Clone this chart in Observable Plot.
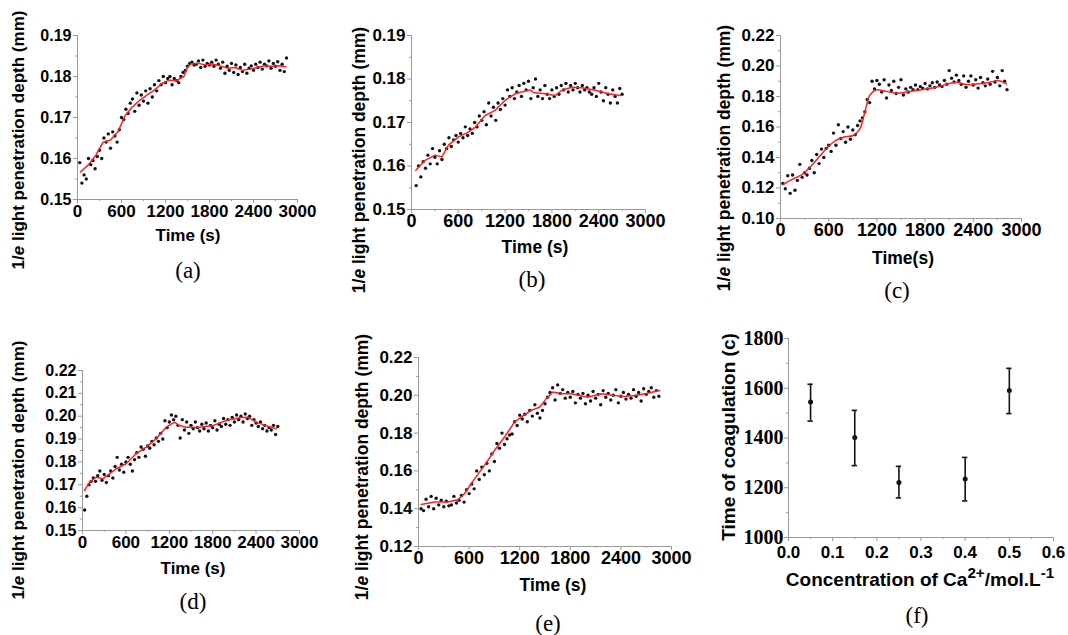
<!DOCTYPE html>
<html>
<head>
<meta charset="utf-8">
<script src="https://cdn.jsdelivr.net/npm/d3@7"></script>
<script src="https://cdn.jsdelivr.net/npm/@observablehq/plot@0.6"></script>
<style>
  html, body { margin: 0; padding: 0; background: #fff; }
  #fig { position: relative; width: 1068px; height: 635px; background: #fff; overflow: hidden; }
  .lab { position: absolute; white-space: nowrap; color: #000; line-height: 1; }
  .ax { font-family: Arial, "Liberation Sans", sans-serif; font-weight: bold; }
  .axf { font-family: Arial, "Liberation Sans", sans-serif; font-weight: bold; font-size: 19px; }
  .let { font-family: "Times New Roman", "Liberation Serif", serif; font-size: 23px; }
  sup { font-size: 0.8em; line-height: 0; }
</style>
</head>
<body>
<div id="fig"></div>
<script>
// ---------- sampling clock (s) ----------
const T = [30,60,90,120,150,180,210,240,270,300,
  330,360,390,420,450,480,510,540,570,600,
  630,660,690,720,750,780,810,840,870,900,
  930,960,990,1020,1050,1080,1110,1140,1170,1200,
  1230,1260,1290,1320,1350,1380,1410,1440,1470,1500,
  1530,1560,1590,1620,1650,1680,1710,1740,1770,1800,
  1830,1860,1890,1920,1950,1980,2010,2040,2070,2100,
  2130,2160,2190,2220,2250,2280,2310,2340,2370,2400,
  2430,2460,2490,2520,2550,2580,2610,2640,2670,2700,
  2730,2760,2790,2820,2850];

// ---------- panel (a) ----------
const aVals = [.1590,.1540,.1560,.1550,.1600,.1585,.1595,.1575,.1605,.1620,
  .1600,.1650,.1640,.1660,.1625,.1665,.1655,.1640,.1670,.1700,
  .1695,.1720,.1710,.1735,.1745,.1715,.1760,.1730,.1755,.1740,
  .1765,.1735,.1770,.1750,.1780,.1765,.1790,.1780,.1800,.1785,
  .1795,.1800,.1780,.1795,.1790,.1785,.1800,.1810,.1815,.1825,
  .1832,.1835,.1828,.1830,.1838,.1822,.1840,.1825,.1832,.1828,
  .1835,.1825,.1840,.1830,.1820,.1835,.1808,.1825,.1815,.1832,
  .1810,.1828,.1805,.1822,.1812,.1830,.1808,.1820,.1826,.1815,
  .1830,.1822,.1835,.1818,.1830,.1826,.1838,.1820,.1832,.1825,
  .1836,.1815,.1830,.1812,.1845];
const aFitT = [40,150,250,350,450,550,650,750,850,950,1050,1150,1250,1350,1450,1500,1550,1650,1750,1850,1950,2050,2150,2250,2350,2450,2550,2650,2750,2840];
const aFitV = [.1567,.1585,.1608,.1640,.1645,.1665,.1705,.1726,.1742,.1755,.1767,.1783,.1791,.1790,.1800,.1822,.1831,.1832,.1828,.1830,.1826,.1820,.1822,.1815,.1818,.1822,.1826,.1825,.1826,.1824];

// ---------- panel (b) (samples start at 60 s) ----------
const bVals = [.1555,.1600,.1575,.1610,.1595,.1625,.1605,.1640,.1620,.1605,
  .1635,.1615,.1650,.1640,.1665,.1645,.1660,.1670,.1655,.1675,
  .1665,.1690,.1670,.1685,.1675,.1700,.1690,.1715,.1705,.1725,
  .1695,.1745,.1715,.1735,.1705,.1745,.1730,.1755,.1740,.1775,
  .1760,.1780,.1755,.1770,.1785,.1760,.1790,.1775,.1795,.1755,
  .1780,.1800,.1760,.1775,.1755,.1785,.1765,.1755,.1775,.1760,
  .1780,.1765,.1785,.1775,.1790,.1770,.1785,.1775,.1790,.1780,
  .1770,.1785,.1775,.1780,.1770,.1765,.1780,.1760,.1790,.1770,
  .1750,.1780,.1765,.1745,.1775,.1760,.1745,.1778,.1765];
const bFitT = [56,175,303,390,474,603,731,816,944,1073,1201,1329,1521,1564,1714,1842,1927,2056,2184,2355,2526,2675];
const bFitV = [.1590,.1613,.1625,.1621,.1648,.1667,.1678,.1689,.1716,.1728,.1751,.1766,.1775,.1769,.1766,.1762,.1774,.1781,.1780,.1774,.1766,.1762];

// ---------- panel (c) ----------
const cVals = [.1230,.1195,.1280,.1165,.1285,.1185,.1250,.1355,.1270,.1300,
  .1285,.1330,.1380,.1300,.1420,.1360,.1455,.1400,.1460,.1480,
  .1440,.1560,.1480,.1615,.1525,.1570,.1500,.1600,.1520,.1580,
  .1550,.1610,.1640,.1660,.1700,.1780,.1760,.1900,.1850,.1905,
  .1880,.1830,.1910,.1790,.1875,.1840,.1900,.1820,.1860,.1910,
  .1810,.1850,.1830,.1860,.1845,.1875,.1845,.1865,.1855,.1885,
  .1850,.1870,.1890,.1860,.1895,.1875,.1865,.1905,.1880,.1970,
  .1920,.1895,.1940,.1905,.1880,.1935,.1860,.1900,.1935,.1875,
  .1910,.1855,.1925,.1890,.1870,.1915,.1880,.1965,.1895,.1925,
  .1870,.1970,.1900,.1845];
const cFitT = [33,158,282,407,531,656,780,905,988,1050,1112,1195,1278,1444,1610,1776,1942,2108,2191,2315,2440,2606,2710,2813];
const cFitV = [.1223,.1260,.1293,.1359,.1435,.1500,.1533,.1544,.1588,.1697,.1807,.1844,.1838,.1822,.1833,.1846,.1861,.1887,.1893,.1878,.1882,.1893,.1905,.1882];

// ---------- panel (d) ----------
const dVals = [.1590,.1650,.1700,.1715,.1730,.1715,.1740,.1760,.1720,.1745,
  .1710,.1740,.1760,.1730,.1780,.1820,.1765,.1790,.1755,.1800,
  .1820,.1790,.1760,.1810,.1840,.1820,.1865,.1855,.1825,.1870,
  .1860,.1890,.1875,.1905,.1890,.1925,.1900,.1980,.1950,.1975,
  .2005,.1985,.2000,.1960,.1905,.1985,.1940,.1975,.1925,.1960,
  .1945,.1975,.1950,.1935,.1965,.1945,.1970,.1935,.1960,.1950,
  .1980,.1940,.1965,.1955,.1990,.1965,.1985,.1960,.1995,.1975,
  .2005,.1985,.2000,.1975,.2010,.1990,.2000,.1960,.1985,.1970,
  .1955,.1975,.1945,.1960,.1935,.1950,.1940,.1960,.1920,.1955];
const dFitT = [28,97,189,281,373,465,603,742,880,1018,1157,1272,1341,1433,1618,1802,1986,2171,2286,2401,2539,2677];
const dFitV = [.1675,.1712,.1733,.1726,.1748,.1770,.1792,.1836,.1865,.1901,.1952,.1974,.1959,.1952,.1952,.1959,.1981,.1993,.1996,.1974,.1959,.1945];

// ---------- panel (e) ----------
const eVals = [.1400,.1390,.1450,.1410,.1465,.1400,.1455,.1420,.1445,.1410,
  .1440,.1415,.1420,.1465,.1430,.1445,.1470,.1435,.1500,.1480,
  .1530,.1505,.1600,.1555,.1620,.1580,.1640,.1600,.1690,.1650,
  .1745,.1720,.1800,.1740,.1770,.1790,.1795,.1860,.1840,.1895,
  .1875,.1900,.1860,.1920,.1890,.1950,.1905,.1880,.1920,.1955,
  .1990,.2015,.2040,.1975,.2055,.2010,.2030,.1985,.2015,.1990,
  .2020,.1960,.2005,.1985,.2010,.1955,.2000,.1970,.2020,.1985,
  .2005,.1950,.2025,.1990,.2010,.1975,.2000,.2030,.1960,.1995,
  .2015,.1980,.2005,.1985,.2030,.1995,.2015,.1970,.2035,.2005,
  .2020,.2040,.1990,.2025,.1995];
const eFitT = [32,190,348,466,545,664,783,901,1020,1138,1217,1336,1435,1514,1593,1692,1810,2008,2166,2324,2443,2561,2719,2858];
const eFitV = [.1422,.1435,.1435,.1447,.1479,.1558,.1629,.1708,.1779,.1858,.1884,.1920,.1937,.1981,.2017,.2008,.2008,.1990,.2008,.1999,.1994,.1999,.2011,.2025];

// ---------- panel (f) ----------
const fConc = [0.05, 0.15, 0.25, 0.40, 0.50];
const fTime = [1545, 1402, 1221, 1235, 1591];
const fLow  = [1468, 1289, 1159, 1147, 1498];
const fHigh = [1616, 1511, 1286, 1322, 1680];

// ---------- tick labels ----------
const timeTicks = [0, 600, 1200, 1800, 2400, 3000];
const timeMinor = [300, 900, 1500, 2100, 2700];
const yTicksAB = [0.15, 0.16, 0.17, 0.18, 0.19];
const yMinorAB = [0.155, 0.165, 0.175, 0.185];
const yTicksC = [0.10, 0.12, 0.14, 0.16, 0.18, 0.20, 0.22];
const yMinorC = [0.11, 0.13, 0.15, 0.17, 0.19, 0.21];
const yTicksD = [0.15, 0.16, 0.17, 0.18, 0.19, 0.20, 0.21, 0.22];
const yMinorD = [0.155, 0.165, 0.175, 0.185, 0.195, 0.205, 0.215];
const yTicksE = [0.12, 0.14, 0.16, 0.18, 0.20, 0.22];
const yMinorE = [0.13, 0.15, 0.17, 0.19, 0.21];
const fXTicks = [0.0, 0.1, 0.2, 0.3, 0.4, 0.5, 0.6];
const fXMinor = [0.05, 0.15, 0.25, 0.35, 0.45, 0.55];
const fYTicks = [1000, 1200, 1400, 1600, 1800];
const fYMinor = [1100, 1300, 1500, 1700];

// ---------- drawing ----------
const fig = document.getElementById("fig");
const AXIS = "#9a9a9a";
const SANS = "Arial, Liberation Sans, sans-serif";
const SERIF = "Times New Roman, Liberation Serif, serif";
const RED = "#ff2020";

function place(svg, left, top) {
  svg.style.position = "absolute";
  svg.style.left = left + "px";
  svg.style.top = top + "px";
  fig.appendChild(svg);
}

function addLabel(html, x, y, cls, size, rotate) {
  const d = document.createElement("div");
  d.className = "lab " + cls;
  d.innerHTML = html;
  d.style.left = x + "px";
  d.style.top = y + "px";
  if (size) d.style.fontSize = size + "px";
  d.style.transform = "translate(-50%,-50%)" + (rotate ? " rotate(-90deg)" : "");
  fig.appendChild(d);
}

function timePanel(p) {
  const ML = 60, MR = 40, MT = 20, MB = 28;
  const W = p.frame[1] - p.frame[0] + ML + MR;
  const H = p.frame[3] - p.frame[2] + MT + MB;
  const samples = p.vals.map((v, i) => ({t: T[i + p.start], v}));
  const fit = p.fitT.map((t, i) => ({t, v: p.fitV[i]}));
  const svg = Plot.plot({
    width: W, height: H,
    marginLeft: ML, marginRight: MR, marginTop: MT, marginBottom: MB,
    style: {background: "transparent", overflow: "visible"},
    x: {domain: [0, 3000]},
    y: {domain: [p.yTicks[0], p.yTicks[p.yTicks.length - 1]]},
    marks: [
      Plot.ruleX([0], {stroke: AXIS}),
      Plot.ruleY([p.yTicks[0]], {stroke: AXIS}),
      Plot.axisY(p.yMinor, {tickSize: 2, stroke: AXIS, fill: "none", label: null}),
      Plot.axisY(p.yTicks, {tickSize: 4, tickPadding: 2, stroke: AXIS, fill: "#000",
        tickFormat: d3.format(".2f"), fontFamily: SANS, fontSize: p.fs[0], fontWeight: "bold", label: null}),
      Plot.axisX(timeMinor, {tickSize: 2, stroke: AXIS, fill: "none", label: null}),
      Plot.axisX(timeTicks, {tickSize: 4, tickPadding: 1, stroke: AXIS, fill: "#000",
        tickFormat: d => String(d), fontFamily: SANS, fontSize: p.fs[1], fontWeight: "bold", label: null}),
      Plot.dot(samples, {x: "t", y: "v", r: 1.7, fill: "#111", stroke: "none"}),
      Plot.line(fit, {x: "t", y: "v", stroke: RED, strokeWidth: 1.5, curve: p.curve || "linear"})
    ]
  });
  place(svg, p.frame[0] - ML, p.frame[2] - MT);
  addLabel("1/<i>e</i> light penetration depth (mm)", p.ylab[0], p.ylab[1], "ax", p.fs[2], true);
  addLabel(p.xtitle, p.xlab[0], p.xlab[1], "ax", p.fs[2], false);
  addLabel(p.letter, p.let[0], p.let[1], "let", 0, false);
}

timePanel({vals: aVals, start: 0, fitT: aFitT, fitV: aFitV, yTicks: yTicksAB, yMinor: yMinorAB, fs: [16, 17, 17],
  frame: [77, 297, 35, 199], ylab: [18, 140], xlab: [188, 235], let: [188, 270], xtitle: "Time (s)", letter: "(a)"});
timePanel({vals: bVals, start: 1, fitT: bFitT, fitV: bFitV, yTicks: yTicksAB, yMinor: yMinorAB, fs: [17, 18, 17.5],
  frame: [411, 645, 35, 209], ylab: [360, 160], xlab: [535, 248], let: [532, 279], xtitle: "Time (s)", letter: "(b)"});
timePanel({vals: cVals, start: 0, fitT: cFitT, fitV: cFitV, yTicks: yTicksC, yMinor: yMinorC, fs: [17, 18, 17.5],
  frame: [780, 1021, 35, 218], ylab: [725, 158], xlab: [903, 259], let: [897, 290], xtitle: "Time(s)", letter: "(c)", curve: "catmull-rom"});
timePanel({vals: dVals, start: 0, fitT: dFitT, fitV: dFitV, yTicks: yTicksD, yMinor: yMinorD, fs: [16, 17, 17],
  frame: [82, 299, 370, 530], ylab: [18, 470], xlab: [193, 568], let: [193, 601], xtitle: "Time (s)", letter: "(d)"});
timePanel({vals: eVals, start: 0, fitT: eFitT, fitV: eFitV, yTicks: yTicksE, yMinor: yMinorE, fs: [17, 18, 17.5],
  frame: [418, 671, 357, 546], ylab: [363, 467], xlab: [553, 586], let: [548, 623], xtitle: "Time (s)", letter: "(e)"});

// panel (f)
(function () {
  const frame = [788, 1053, 338, 537];
  const ML = 70, MR = 30, MT = 20, MB = 28;
  const W = frame[1] - frame[0] + ML + MR;
  const H = frame[3] - frame[2] + MT + MB;
  const data = fConc.map((c, i) => ({c, t: fTime[i], lo: fLow[i], hi: fHigh[i]}));
  const cap = 0.006;
  const svg = Plot.plot({
    width: W, height: H,
    marginLeft: ML, marginRight: MR, marginTop: MT, marginBottom: MB,
    style: {background: "transparent", overflow: "visible"},
    x: {domain: [0, 0.6]},
    y: {domain: [1000, 1800]},
    marks: [
      Plot.ruleX([0], {stroke: AXIS}),
      Plot.ruleY([1000], {stroke: AXIS}),
      Plot.axisY(fYMinor, {tickSize: 2, stroke: AXIS, fill: "none", label: null}),
      Plot.axisY(fYTicks, {tickSize: 4, tickPadding: 1, stroke: AXIS, fill: "#000",
        tickFormat: d => String(d), fontFamily: SERIF, fontSize: 20, fontWeight: "bold", label: null}),
      Plot.axisX(fXMinor, {tickSize: 2, stroke: AXIS, fill: "none", label: null}),
      Plot.axisX(fXTicks, {tickSize: 4, tickPadding: 4, stroke: AXIS, fill: "#000",
        tickFormat: d3.format(".1f"), fontFamily: SANS, fontSize: 17, fontWeight: "bold", label: null}),
      Plot.ruleX(data, {x: "c", y1: "lo", y2: "hi", stroke: "#111", strokeWidth: 1.6}),
      Plot.ruleY(data, {y: "hi", x1: d => d.c - cap, x2: d => d.c + cap, stroke: "#111", strokeWidth: 1.6}),
      Plot.ruleY(data, {y: "lo", x1: d => d.c - cap, x2: d => d.c + cap, stroke: "#111", strokeWidth: 1.6}),
      Plot.dot(data, {x: "c", y: "t", r: 2.5, fill: "#111", stroke: "none"})
    ]
  });
  place(svg, frame[0] - ML, frame[2] - MT);
  addLabel("Time of coagulation (c)", 728, 437, "axf", 0, true);
  addLabel("Concentration of Ca<sup>2+</sup>/mol.L<sup>-1</sup>", 920, 579, "axf", 0, false);
  addLabel("(f)", 917, 615, "let", 0, false);
})();
</script>
</body>
</html>
